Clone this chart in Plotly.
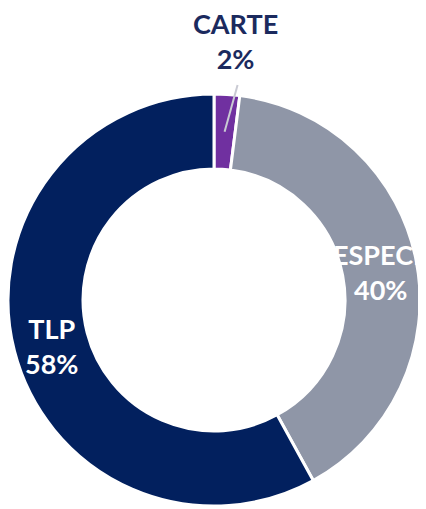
import math
import plotly.graph_objects as go

labels = ["CARTE", "ESPECE", "TLP"]
values = [2, 40, 58]
colors = ["#7030A0", "#8F96A7", "#02205E"]
label_colors = ["#1B2A5E", "#FFFFFF", "#FFFFFF"]

W, H = 426, 509
OFF = 8  # default body margin of the html page
# geometry in window pixels
CXW, CYW, R_OUT, R_IN = 214, 300, 206, 131
CX, CY = CXW - OFF, CYW - OFF

fig = go.Figure(go.Pie(
    labels=labels,
    values=values,
    sort=False,
    direction="clockwise",
    rotation=0,
    hole=R_IN / R_OUT,
    marker=dict(colors=colors, line=dict(color="white", width=3)),
    textinfo="none",
    hoverinfo="label+percent",
    showlegend=False,
    domain=dict(x=[max(0, (CX - R_OUT) / W), (CX + R_OUT) / W],
                y=[(H - CY - R_OUT) / H, (H - CY + R_OUT) / H]),
))

total = sum(values)
cum = 0
annotations = []
shapes = []
FS = 27
for lab, v, tc in zip(labels, values, label_colors):
    mid = (cum + v / 2) / total * 2 * math.pi
    cum += v
    pct = f"{round(v / total * 100)}%"
    txt = f"<b>{lab}</b><br><b>{pct}</b>"
    rmid = (R_IN + R_OUT) / 2
    x0 = CX + rmid * math.sin(mid)
    y0 = CY - rmid * math.cos(mid)
    if v / total < 0.05:
        x1, y1 = x0 + 13, 77
        shapes.append(dict(type="line", xref="paper", yref="paper",
                           x0=x0 / W, y0=(H - y0) / H, x1=x1 / W, y1=(H - y1) / H,
                           line=dict(color="#C9CAD3", width=2)))
        annotations.append(dict(x=(x1 - 2) / W, y=(H - 33) / H, xref="paper", yref="paper",
                                text=txt, showarrow=False, xanchor="center", yanchor="middle",
                                font=dict(family="Lato", size=FS, color=tc)))
    else:
        annotations.append(dict(x=(x0 + 1) / W, y=(H - (y0 + 4)) / H, xref="paper", yref="paper",
                                text=txt, showarrow=False, xanchor="center", yanchor="middle",
                                font=dict(family="Lato", size=FS, color=tc)))

fig.update_layout(
    width=W, height=H,
    margin=dict(l=0, r=0, t=0, b=0),
    paper_bgcolor="white",
    plot_bgcolor="white",
    annotations=annotations,
    shapes=shapes,
)

fig.write_html("out.html")
